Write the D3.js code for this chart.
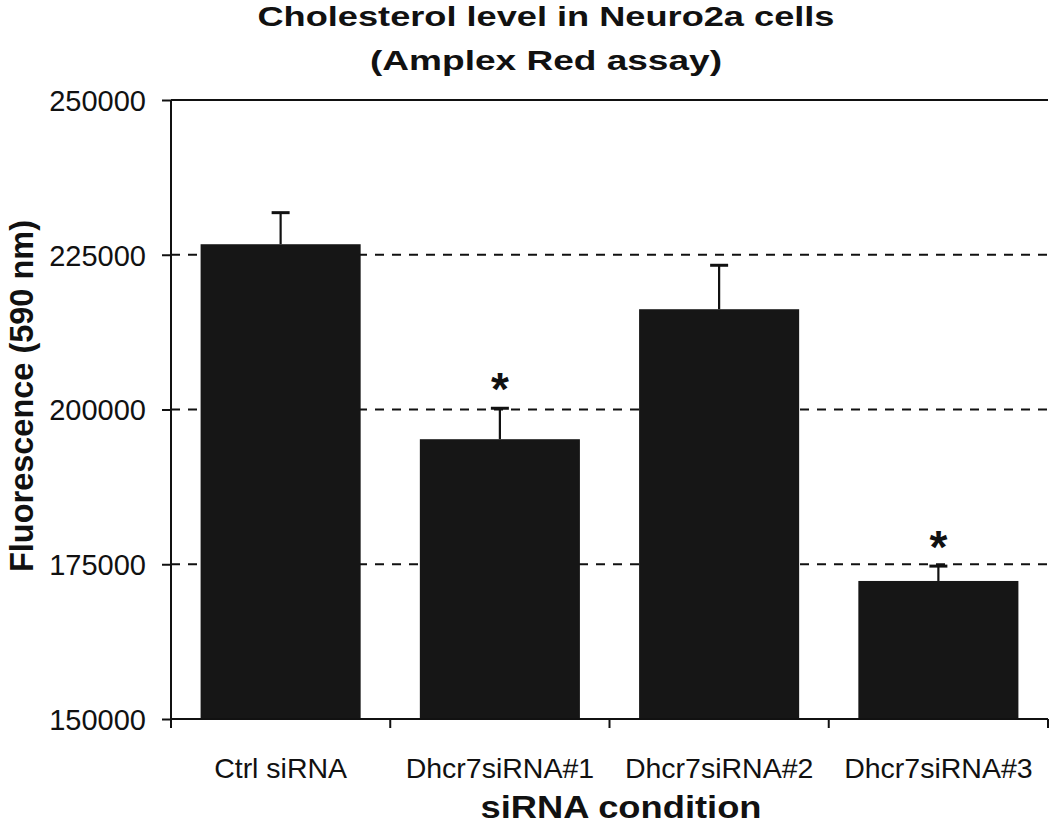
<!DOCTYPE html>
<html><head><meta charset="utf-8">
<script src="https://cdn.jsdelivr.net/npm/d3@7"></script>
<style>body{margin:0;background:#fff}svg{display:block}text{font-family:"Liberation Sans",Arial,sans-serif;fill:#111}</style>
</head><body>
<script>
const categories = ["Ctrl siRNA","Dhcr7siRNA#1","Dhcr7siRNA#2","Dhcr7siRNA#3"];
const means = [226700, 195200, 216200, 172300];
const errTops = [231800, 200200, 223300, 174700];
const significant = [false, true, false, true];
const yTicks = [150000, 175000, 200000, 225000, 250000];
const titleLines = ["Cholesterol level in Neuro2a cells","(Amplex Red assay)"];
const xTitle = "siRNA condition";
const yTitle = "Fluorescence (590 nm)";

const W=1050,H=829;
const m={left:171,right:2,top:100,bottom:110};
const svg=d3.select("body").append("svg").attr("width",W).attr("height",H);
const x=d3.scaleBand().domain(categories).range([m.left,W-m.right]).paddingInner(0.27).paddingOuter(0.135);
const xb=d3.scaleBand().domain(categories).range([m.left,W-m.right]);
const y=d3.scaleLinear().domain([150000,250000]).range([H-m.bottom,m.top]);
const ink="#111";

// dashed gridlines
svg.append("g").selectAll("line").data(yTicks.filter(d=>d>150000&&d<250000)).join("line")
 .attr("x1",m.left).attr("x2",W-m.right).attr("y1",d=>y(d)).attr("y2",d=>y(d))
 .attr("stroke",ink).attr("stroke-width",2).attr("stroke-dasharray","9,8");
// top border
svg.append("line").attr("x1",m.left).attr("x2",W-m.right).attr("y1",y(250000)).attr("y2",y(250000)).attr("stroke",ink).attr("stroke-width",2);

// bars
svg.append("g").selectAll("rect").data(categories).join("rect")
 .attr("x",d=>x(d)).attr("width",x.bandwidth())
 .attr("y",(d,i)=>y(means[i])).attr("height",(d,i)=>y(150000)-y(means[i]))
 .attr("fill","#161616");

// error bars
const eb=svg.append("g");
categories.forEach((c,i)=>{
  const cx=x(c)+x.bandwidth()/2;
  eb.append("line").attr("x1",cx).attr("x2",cx).attr("y1",y(means[i])).attr("y2",y(errTops[i])).attr("stroke",ink).attr("stroke-width",2.2);
  eb.append("line").attr("x1",cx-9).attr("x2",cx+9).attr("y1",y(errTops[i])).attr("y2",y(errTops[i])).attr("stroke",ink).attr("stroke-width",3);
  if(significant[i]) eb.append("text").attr("x",cx).attr("y",y(errTops[i])-3).attr("text-anchor","middle")
     .attr("font-size",46).attr("font-weight","bold").text("*");
});

// y axis
const ya=svg.append("g").attr("transform",`translate(${m.left},0)`)
 .call(d3.axisLeft(y).tickValues(yTicks).tickFormat(d3.format("d")).tickSize(9).tickPadding(16));
ya.select(".domain").attr("stroke",ink).attr("stroke-width",2).attr("d",`M0,${y(250000)}V${y(150000)+9}`);
ya.selectAll(".tick line").attr("stroke",ink).attr("stroke-width",2);
ya.selectAll(".tick text").attr("font-size",29).attr("font-family","Liberation Sans, Arial, sans-serif").attr("fill",ink).attr("dy","0.36em");

// x axis
const xa=svg.append("g").attr("transform",`translate(0,${y(150000)})`);
xa.append("line").attr("x1",m.left).attr("x2",W-m.right).attr("stroke",ink).attr("stroke-width",2);
xa.selectAll("line.t").data(categories).join("line").attr("class","t")
 .attr("x1",d=>xb(d)+xb.bandwidth()).attr("x2",d=>xb(d)+xb.bandwidth()).attr("y1",0).attr("y2",9).attr("stroke",ink).attr("stroke-width",2);
xa.selectAll("text").data(categories).join("text")
 .attr("x",d=>x(d)+x.bandwidth()/2).attr("y",59).attr("text-anchor","middle").attr("font-size",28.5).text(d=>d);

// titles
svg.selectAll("text.title").data(titleLines).join("text").attr("class","title")
 .attr("x",546).attr("y",(d,i)=>26+i*44).attr("text-anchor","middle").attr("font-size",28).attr("font-weight","bold")
 .attr("textLength",(d,i)=>i===0?577:352).attr("lengthAdjust","spacingAndGlyphs").text(d=>d);
svg.append("text").attr("x",621).attr("y",818).attr("text-anchor","middle").attr("font-size",31).attr("font-weight","bold")
 .attr("textLength",281).attr("lengthAdjust","spacingAndGlyphs").text(xTitle);
svg.append("text").attr("transform","translate(33,396) rotate(-90)").attr("text-anchor","middle").attr("font-size",34).attr("font-weight","bold")
 .attr("textLength",352).attr("lengthAdjust","spacingAndGlyphs").text(yTitle);
</script>
</body></html>
